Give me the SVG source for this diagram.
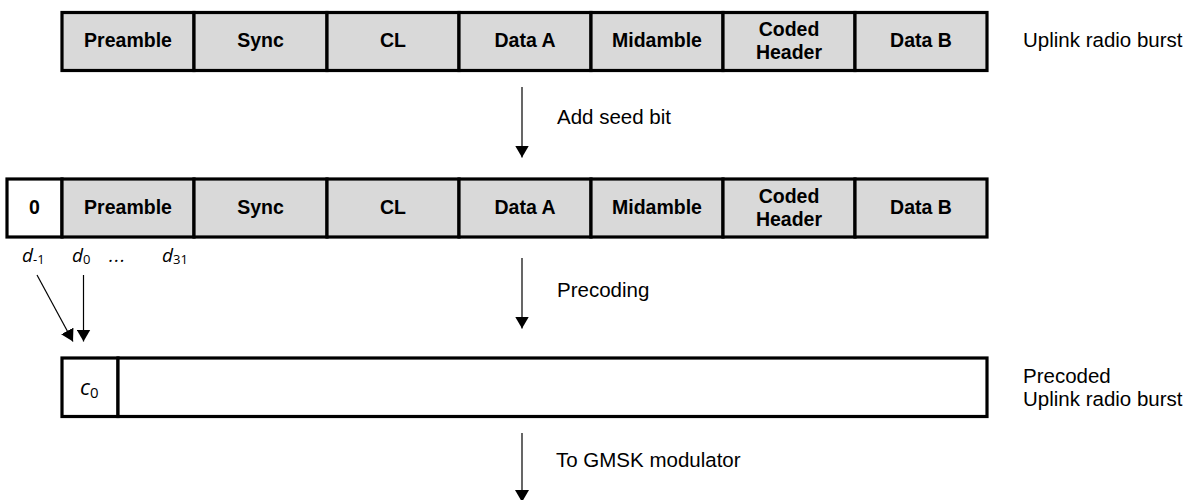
<svg xmlns="http://www.w3.org/2000/svg" width="1192" height="500" viewBox="0 0 1192 500">
  <style>
    .cell { fill: #d9d9d9; stroke: #000; stroke-width: 3.2; }
    .blank { fill: #fff; stroke: #000; stroke-width: 3.2; }
    .lbl { font-family: "Liberation Sans", Arial, sans-serif; font-weight: bold; font-size: 19.5px; text-anchor: middle; fill: #000; }
    .note { font-family: "Liberation Sans", Arial, sans-serif; font-size: 20.5px; fill: #000; }
    .sym { font-family: "Open Sans", "Liberation Sans", sans-serif; font-style: italic; font-size: 19px; fill: #000; }
    .sub { font-size: 13px; font-style: normal; }
    .wire { stroke: #000; stroke-width: 1.2; fill: none; marker-end: url(#head); }
  </style>
  <defs>
    <marker id="head" viewBox="0 0 12 14" refX="12" refY="7" markerWidth="12" markerHeight="14" markerUnits="userSpaceOnUse" orient="auto">
      <path d="M0,0 L12,7 L0,14 Z" fill="#000"/>
    </marker>
  </defs>

  <!-- Uplink radio burst -->
  <g id="burst">
    <rect class="cell" x="62" y="12.5" width="132" height="58"/>
    <rect class="cell" x="194" y="12.5" width="133" height="58"/>
    <rect class="cell" x="327" y="12.5" width="132" height="58"/>
    <rect class="cell" x="459" y="12.5" width="132" height="58"/>
    <rect class="cell" x="591" y="12.5" width="132" height="58"/>
    <rect class="cell" x="723" y="12.5" width="132" height="58"/>
    <rect class="cell" x="855" y="12.5" width="132" height="58"/>
    <text class="lbl" x="128" y="47">Preamble</text>
    <text class="lbl" x="260.5" y="47">Sync</text>
    <text class="lbl" x="393" y="47">CL</text>
    <text class="lbl" x="525" y="47">Data A</text>
    <text class="lbl" x="657" y="47">Midamble</text>
    <text class="lbl" x="789" y="36">Coded</text>
    <text class="lbl" x="789" y="59">Header</text>
    <text class="lbl" x="921" y="47">Data B</text>
    <text class="note" x="1023" y="47">Uplink radio burst</text>
  </g>

  <!-- Burst with seed bit -->
  <g id="seeded">
    <rect class="blank" x="7" y="179" width="55" height="58"/>
    <rect class="cell" x="62" y="179" width="132" height="58"/>
    <rect class="cell" x="194" y="179" width="133" height="58"/>
    <rect class="cell" x="327" y="179" width="132" height="58"/>
    <rect class="cell" x="459" y="179" width="132" height="58"/>
    <rect class="cell" x="591" y="179" width="132" height="58"/>
    <rect class="cell" x="723" y="179" width="132" height="58"/>
    <rect class="cell" x="855" y="179" width="132" height="58"/>
    <text class="lbl" x="34.5" y="214">0</text>
    <text class="lbl" x="128" y="214">Preamble</text>
    <text class="lbl" x="260.5" y="214">Sync</text>
    <text class="lbl" x="393" y="214">CL</text>
    <text class="lbl" x="525" y="214">Data A</text>
    <text class="lbl" x="657" y="214">Midamble</text>
    <text class="lbl" x="789" y="203">Coded</text>
    <text class="lbl" x="789" y="226">Header</text>
    <text class="lbl" x="921" y="214">Data B</text>
  </g>

  <!-- Bit indices -->
  <g id="indices">
    <text class="sym" x="22" y="262">d<tspan class="sub" dy="2">-1</tspan></text>
    <text class="sym" x="72" y="262">d<tspan class="sub" dy="2">0</tspan></text>
    <text class="sym" x="109" y="262" letter-spacing="1">...</text>
    <text class="sym" x="162" y="262">d<tspan class="sub" dy="2">31</tspan></text>
  </g>

  <!-- Precoded burst -->
  <g id="precoded">
    <rect class="blank" x="62" y="358" width="56" height="58.5"/>
    <rect class="blank" x="118" y="358" width="869" height="58.5"/>
    <text class="sym" x="80" y="395" style="font-size:22px">c<tspan class="sub" dy="3" style="font-size:15px">0</tspan></text>
    <text class="note" x="1023" y="383">Precoded</text>
    <text class="note" x="1023" y="406">Uplink radio burst</text>
  </g>

  <!-- Connectors -->
  <g id="connectors">
    <line class="wire" x1="522" y1="87" x2="522" y2="157.5"/>
    <line class="wire" x1="522" y1="258" x2="522" y2="328.5"/>
    <line class="wire" x1="522" y1="433" x2="522" y2="502"/>
    <line class="wire" x1="37" y1="275" x2="73" y2="341.5"/>
    <line class="wire" x1="83.5" y1="275" x2="83.5" y2="341.5"/>
  </g>
  <g id="step-labels">
    <text class="note" x="557" y="124">Add seed bit</text>
    <text class="note" x="557" y="297">Precoding</text>
    <text class="note" x="556" y="466.5">To GMSK modulator</text>
  </g>
</svg>
